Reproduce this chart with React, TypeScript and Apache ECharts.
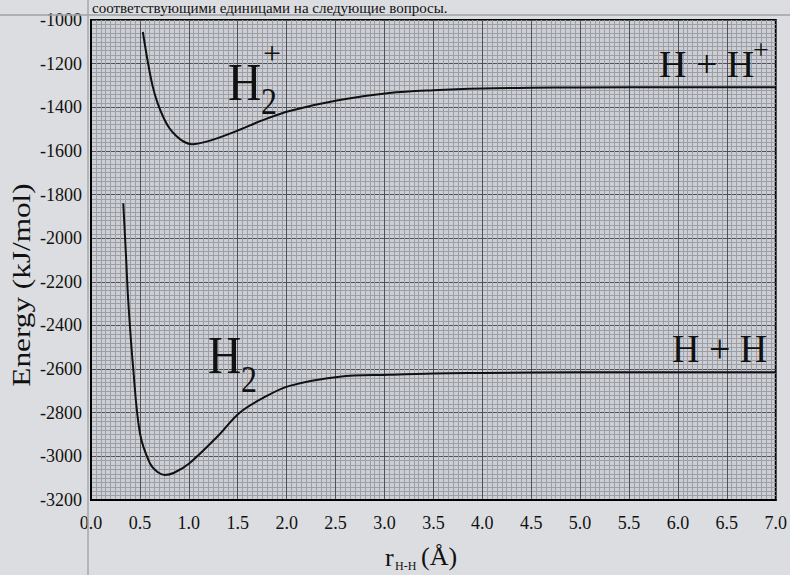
import React, { useEffect, useRef } from "react";
import * as echarts from "echarts";

// H2+ potential energy curve (r in Å, energy in kJ/mol)
const h2pR = [0.53, 0.58, 0.63, 0.68, 0.735, 0.8, 0.875, 0.95, 1.03, 1.2, 1.51, 1.75, 2.03, 2.54, 3.05, 3.5, 4.0, 4.5, 5.0, 6.0, 7.0];
const h2pE = [-1055, -1190, -1303, -1380, -1441, -1495, -1533, -1558, -1569, -1555, -1505, -1460, -1417, -1367, -1335, -1322, -1314, -1311, -1309, -1308, -1308];

// H2 potential energy curve
const h2R = [0.33, 0.36, 0.38, 0.43, 0.5, 0.6, 0.68, 0.755, 0.85, 1.01, 1.29, 1.52, 1.76, 2.03, 2.54, 3.05, 3.5, 4.0, 5.0, 6.0, 7.0];
const h2E = [-1840, -2100, -2282, -2589, -2893, -3030, -3072, -3085, -3075, -3030, -2910, -2800, -2732, -2677, -2635, -2626, -2620, -2618, -2615, -2615, -2615];

const xMin = 0;
const xMax = 7;
const xStep = 0.5;
const yMin = -3200;
const yMax = -1000;
const yStep = 200;

const SERIF = "Liberation Serif";

function txt(text: string, x: number, y: number, size: number, opts: any = {}) {
  return {
    type: "text",
    x,
    y,
    z: 100,
    scaleX: opts.scaleX ?? 1,
    scaleY: opts.scaleY ?? 1,
    rotation: opts.rotation ?? 0,
    style: {
      text,
      x: 0,
      y: 0,
      fontFamily: SERIF,
      fontSize: size,
      fill: opts.fill ?? "#111",
      textAlign: opts.align ?? "left",
      textVerticalAlign: "middle",
      align: opts.align ?? "left",
      verticalAlign: "middle",
    },
  };
}

export default function App() {
  const ref = useRef<HTMLDivElement>(null);

  useEffect(() => {
    if (!ref.current) return;
    const chart = echarts.init(ref.current, undefined, { renderer: "svg" });
    const pairs = (xs: number[], ys: number[]) => xs.map((x, i) => [x, ys[i]]);
    chart.setOption({
      animation: false,
      backgroundColor: "#dcdde0",
      textStyle: { fontFamily: SERIF },
      grid: {
        left: 91,
        right: 13,
        top: 20,
        bottom: 75,
        show: true,
        borderColor: "#000",
        borderWidth: 2,
        backgroundColor: "#cdcfd4",
      },
      xAxis: {
        type: "value",
        min: xMin,
        max: xMax,
        interval: xStep,
        axisLine: { show: true, lineStyle: { color: "#000", width: 2 } },
        axisTick: { show: false },
        axisLabel: {
          formatter: (v: number) => v.toFixed(1),
          fontFamily: SERIF,
          fontSize: 18,
          color: "#111",
          margin: 14,
        },
        splitLine: { show: true, lineStyle: { color: "#4e5157", width: 1 } },
        minorTick: { show: false, splitNumber: 10 },
        minorSplitLine: { show: true, lineStyle: { color: "#9c9fa6", width: 1 } },
      },
      yAxis: {
        type: "value",
        min: yMin,
        max: yMax,
        interval: yStep,
        axisLine: { show: true, lineStyle: { color: "#000", width: 2 } },
        axisTick: { show: false },
        axisLabel: {
          formatter: (v: number) => String(v),
          fontFamily: SERIF,
          fontSize: 18,
          color: "#111",
          margin: 9,
        },
        splitLine: { show: true, lineStyle: { color: "#4e5157", width: 1 } },
        minorTick: { show: false, splitNumber: 10 },
        minorSplitLine: { show: true, lineStyle: { color: "#9c9fa6", width: 1 } },
      },
      series: [
        {
          type: "line",
          data: pairs(h2pR, h2pE),
          showSymbol: false,
          symbol: "none",
          smooth: 0.35,
          lineStyle: { color: "#111", width: 2 },
          z: 10,
        },
        {
          type: "line",
          data: pairs(h2R, h2E),
          showSymbol: false,
          symbol: "none",
          smooth: 0.35,
          lineStyle: { color: "#111", width: 2 },
          z: 10,
        },
      ],
      graphic: [
        // scan artifacts
        { type: "line", z: 1, shape: { x1: 0, y1: 15, x2: 790, y2: 15 }, style: { stroke: "#9ea1a6", lineWidth: 1.5 } },
        { type: "line", z: 1, shape: { x1: 88, y1: 0, x2: 88, y2: 575 }, style: { stroke: "#a4a8ae", lineWidth: 1.5 } },
        // top text (partly hidden in the scan)
        txt("соответствующими единицами на следующие вопросы.", 92, 8, 15),
        // H2+ label
        txt("H", 228, 82, 46, { scaleY: 1.15 }),
        txt("2", 261, 102, 32, { scaleY: 1.2 }),
        txt("+", 263, 53, 32),
        // H + H+ label
        txt("H + H", 659, 64, 38),
        txt("+", 753, 49, 28),
        // H2 label
        txt("H", 208, 355, 46, { scaleY: 1.15 }),
        txt("2", 241, 380, 32, { scaleY: 1.2 }),
        // H + H label
        txt("H + H", 672, 348, 38, { scaleY: 1.05 }),
        // axis titles
        txt("Energy (kJ/mol)", 22, 285, 25, { rotation: Math.PI / 2, scaleX: 1.25, align: "center" }),
        txt("r", 385, 557, 26),
        txt("H-H", 395, 566, 12),
        txt("(Å)", 421, 556, 26),
      ],
    });
    return () => chart.dispose();
  }, []);

  return (
    <div
      ref={ref}
      style={{ position: "fixed", left: 0, top: 0, width: 790, height: 575 }}
    />
  );
}
